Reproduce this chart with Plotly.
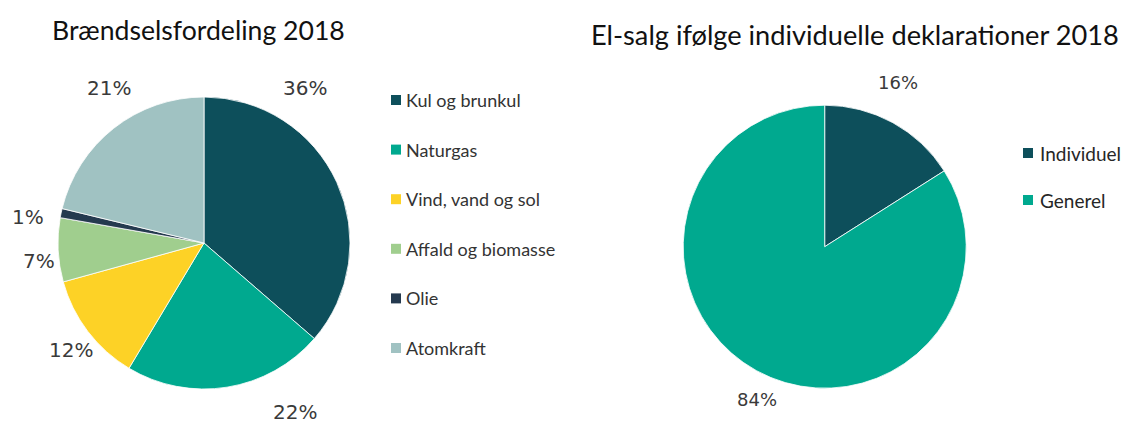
import plotly.graph_objects as go

# page body has an 8px margin, so the figure is drawn from (8, 8)
OX, OY = 8, 8
W, H = 1131 - OX, 424 - OY

# ---- data ----
fuel_labels = ["Kul og brunkul", "Naturgas", "Vind, vand og sol", "Affald og biomasse", "Olie", "Atomkraft"]
fuel_values = [36, 22, 12, 7, 1, 21]
fuel_colors = ["#0D4F5B", "#00A98F", "#FDD226", "#A0CE8E", "#253A4F", "#A0C2C2"]

sales_labels = ["Individuel", "Generel"]
sales_values = [16, 84]
sales_colors = ["#0D4F5B", "#00A98F"]

title_left = "Brændselsfordeling 2018"
title_right = "El-salg ifølge individuelle deklarationer 2018"

# ---- layout helpers (screen pixel -> paper) ----
def px(x):
    return (x - OX) / W

def py(y):
    return 1 - (y - OY) / H

def dom(cx, cy, r):
    return dict(x=[px(cx - r), px(cx + r)], y=[py(cy + r), py(cy - r)])

fig = go.Figure()
fig.add_trace(go.Pie(
    labels=fuel_labels, values=fuel_values, sort=False, direction="clockwise",
    rotation=0, textinfo="none", hoverinfo="label+percent", showlegend=False,
    marker=dict(colors=fuel_colors, line=dict(color="white", width=0.8)),
    domain=dom(204, 243, 146),
))
fig.add_trace(go.Pie(
    labels=sales_labels, values=sales_values, sort=False, direction="clockwise",
    rotation=0, textinfo="none", hoverinfo="label+percent", showlegend=False,
    marker=dict(colors=sales_colors, line=dict(color="white", width=0.8)),
    domain=dom(824.7, 246.7, 141.5),
))

annotations = []
shapes = []

# titles
annotations.append(dict(text=title_left, x=px(199), y=py(30), xref="paper", yref="paper",
                        xanchor="center", yanchor="middle", showarrow=False,
                        font=dict(family="Lato", size=26.6, color="#111111")))
annotations.append(dict(text=title_right, x=px(855), y=py(34), xref="paper", yref="paper",
                        xanchor="center", yanchor="middle", showarrow=False,
                        font=dict(family="Lato", size=27.2, color="#111111")))

# percentage labels (Excel-style placement)
fuel_label_pos = [(305, 88), (294.5, 412), (71, 350), (39, 261), (27.5, 217), (109, 88)]
for v, (x, y) in zip(fuel_values, fuel_label_pos):
    annotations.append(dict(text=f"{v}%", x=px(x), y=py(y), xref="paper", yref="paper",
                            xanchor="center", yanchor="middle", showarrow=False,
                            font=dict(family="DejaVu Sans", size=20, color="#3A3A3A")))
sales_label_pos = [(898, 82), (757, 399)]
for v, (x, y) in zip(sales_values, sales_label_pos):
    annotations.append(dict(text=f"{v}%", x=px(x), y=py(y), xref="paper", yref="paper",
                            xanchor="center", yanchor="middle", showarrow=False,
                            font=dict(family="DejaVu Sans", size=18, color="#3A3A3A")))

# legends (drawn)
for i, (lab, col) in enumerate(zip(fuel_labels, fuel_colors)):
    yc = 100 + i * 49.6
    shapes.append(dict(type="rect", xref="paper", yref="paper",
                       x0=px(391), x1=px(401), y0=py(yc + 5), y1=py(yc - 5),
                       fillcolor=col, line=dict(width=0)))
    annotations.append(dict(text=lab, x=px(404), y=py(yc), xref="paper", yref="paper",
                            xanchor="left", yanchor="middle", showarrow=False,
                            font=dict(family="Lato", size=18, color="#333333")))
for i, (lab, col) in enumerate(zip(sales_labels, sales_colors)):
    yc = 153 + i * 47
    shapes.append(dict(type="rect", xref="paper", yref="paper",
                       x0=px(1023), x1=px(1033), y0=py(yc + 5), y1=py(yc - 5),
                       fillcolor=col, line=dict(width=0)))
    annotations.append(dict(text=lab, x=px(1038), y=py(yc), xref="paper", yref="paper",
                            xanchor="left", yanchor="middle", showarrow=False,
                            font=dict(family="Lato", size=19, color="#262626")))

fig.update_layout(
    width=W, height=H, margin=dict(l=0, r=0, t=0, b=0),
    paper_bgcolor="white", plot_bgcolor="white",
    annotations=annotations, shapes=shapes, showlegend=False,
)

fig.write_html("out.html")
